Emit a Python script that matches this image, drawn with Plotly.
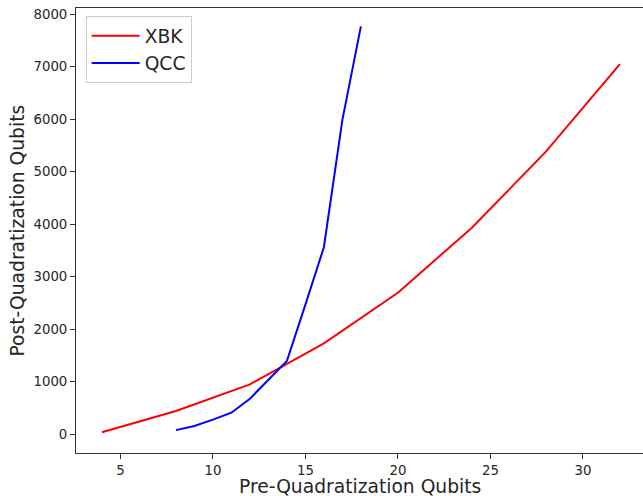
import plotly.graph_objects as go

xbk_x = [4, 8, 12, 16, 20, 24, 28, 32]
xbk_y = [38, 443, 952, 1733, 2697, 3935, 5383, 7053]

qcc_x = [8, 9, 10, 11, 12, 13, 14, 15, 16, 17, 18]
qcc_y = [80, 158, 280, 411, 678, 1035, 1396, 2470, 3563, 5990, 7770]

x_ticks = [5, 10, 15, 20, 25, 30]
y_ticks = [0, 1000, 2000, 3000, 4000, 5000, 6000, 7000, 8000]

FONT = "DejaVu Sans"
AX = "#333333"
TXT = "#262626"

fig = go.Figure()
fig.add_trace(go.Scatter(x=xbk_x, y=xbk_y, mode="lines", name="XBK",
                         line=dict(color="red", width=2)))
fig.add_trace(go.Scatter(x=qcc_x, y=qcc_y, mode="lines", name="QCC",
                         line=dict(color="blue", width=2)))

fig.update_layout(
    width=643, height=496,
    margin=dict(l=76, r=0, t=8, b=43, autoexpand=False),
    paper_bgcolor="white", plot_bgcolor="white",
    font=dict(family=FONT, color=TXT),
    showlegend=True,
    legend=dict(x=0.017, y=0.982, xanchor="left", yanchor="top",
                bgcolor="rgba(255,255,255,0.8)", bordercolor="#cccccc", borderwidth=1,
                font=dict(family=FONT, size=18.7, color=TXT),
                itemwidth=48),
    xaxis=dict(range=[2.6, 33.25], tickvals=x_ticks, ticks="outside", ticklen=5,
               tickcolor=AX, showline=True, linecolor=AX, linewidth=1, mirror=True,
               showgrid=False, zeroline=False, automargin=False,
               ticklabelstandoff=0,
               tickfont=dict(family=FONT, size=13.3, color=TXT)),
    yaxis=dict(range=[-356, 8120], tickvals=y_ticks, ticks="outside", ticklen=5,
               tickcolor=AX, showline=True, linecolor=AX, linewidth=1, mirror=False,
               showgrid=False, zeroline=False, automargin=False,
               tickfont=dict(family=FONT, size=13.3, color=TXT)),
    annotations=[
        dict(text="Pre-Quadratization Qubits", xref="paper", yref="paper",
             x=0.5, y=-0.075, xanchor="center", yanchor="middle", showarrow=False,
             font=dict(family=FONT, size=18.7, color=TXT)),
        dict(text="Post-Quadratization Qubits", xref="paper", yref="paper",
             x=-0.1023, y=0.5, xanchor="center", yanchor="middle", showarrow=False,
             textangle=-90, font=dict(family=FONT, size=18.7, color=TXT)),
    ],
)

fig.write_html("out.html", config={"displayModeBar": False},
               post_script="document.body.style.margin='0';document.body.style.overflow='hidden';")
